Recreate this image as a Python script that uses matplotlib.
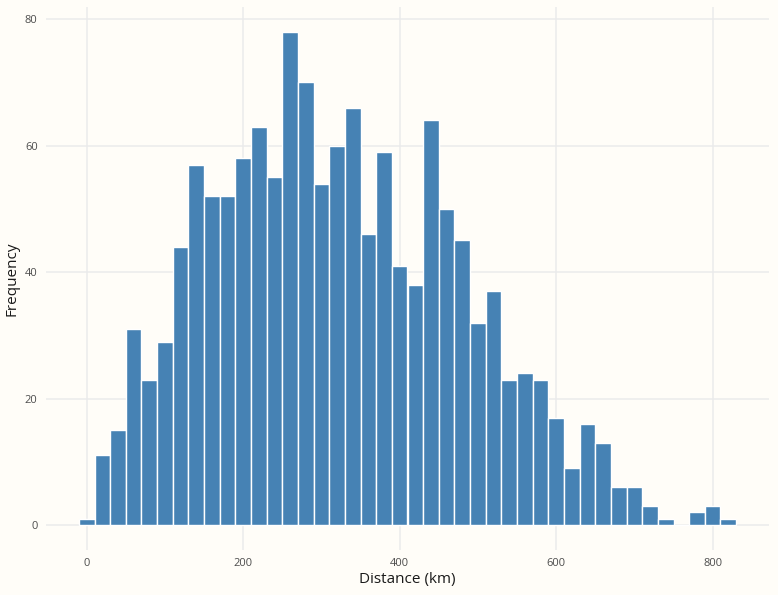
import matplotlib
matplotlib.use("Agg")
import matplotlib.pyplot as plt
import numpy as np

bin_centers = list(range(0, 840, 20))
counts = [1, 11, 15, 31, 23, 29, 44, 57, 52, 52, 58, 63, 55, 78, 70, 54, 60, 66, 46, 59,
          41, 38, 64, 50, 45, 32, 37, 23, 24, 23, 17, 9, 16, 13, 6, 6, 3, 1, 0, 2, 3, 1]
x_ticks = [0, 200, 400, 600, 800]
y_ticks = [0, 20, 40, 60, 80]

bg = "#FFFDF8"
plt.rcParams['font.family'] = ['Open Sans', 'DejaVu Sans']
fig = plt.figure(figsize=(7.78, 5.95), dpi=100, facecolor=bg)
ax = fig.add_axes([46/778, 0.0761, (769-46)/778, 0.988-0.0761])
ax.set_facecolor(bg)

ax.bar(bin_centers, counts, width=20, color="#4682B4", edgecolor="#FFFFFF", linewidth=1.0, zorder=3)

ax.set_xlim(-52, 872)
ax.set_ylim(-3.9, 81.9)
ax.set_xticks(x_ticks)
ax.set_yticks(y_ticks)
ax.grid(True, color="#EBEBEB", linewidth=1.1, zorder=0)
for s in ax.spines.values():
    s.set_visible(False)
ax.tick_params(length=0, labelsize=8, labelcolor="#4D4D4D", pad=6)
ax.set_xlabel("Distance (km)", fontsize=11, color="#1a1a1a", labelpad=2)
ax.set_ylabel("Frequency", fontsize=11, color="#1a1a1a", labelpad=4)

fig.savefig("out.png", dpi=100, facecolor=bg)
